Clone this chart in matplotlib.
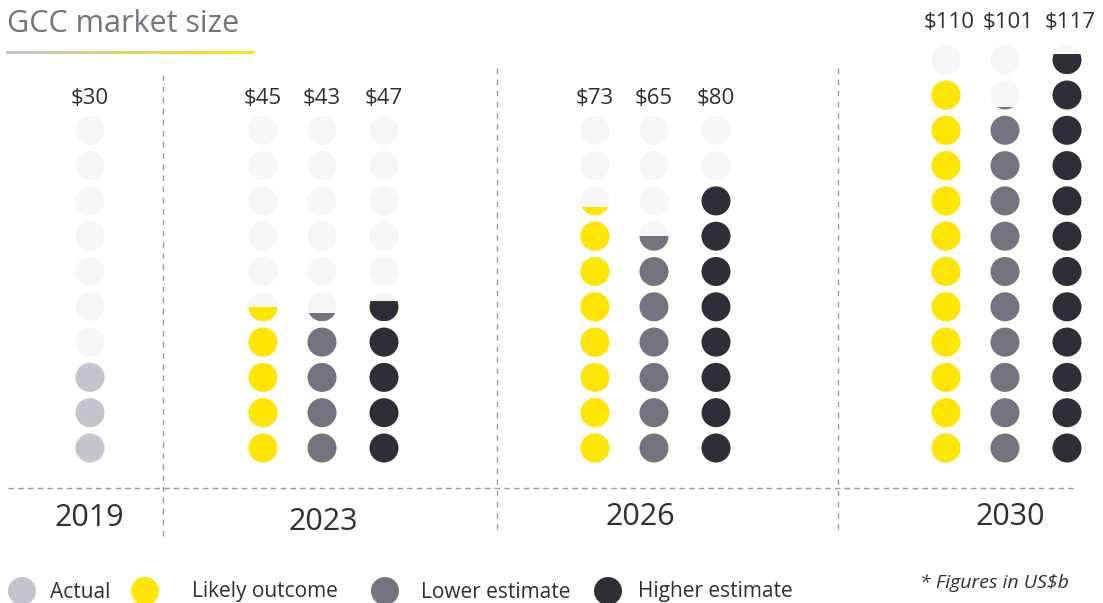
import matplotlib
matplotlib.use("Agg")
import matplotlib.pyplot as plt
import numpy as np
from matplotlib.patches import Circle, Rectangle
from matplotlib.colors import LinearSegmentedColormap

# ---- data ----
years = ["2019", "2023", "2026", "2030"]
actual = [30, None, None, None]
likely = [None, 45, 73, 110]
lower = [None, 43, 65, 101]
higher = [None, 47, 80, 117]
unit = 10  # US$b per dot
rows = [10, 10, 10, 12]
series_names = ["Actual", "Likely outcome", "Lower estimate", "Higher estimate"]
series_colors = ["#c4c4cd", "#ffe600", "#747480", "#2e2e38"]
empty_color = "#f6f6f6"
text_color = "#2e2e38"

plt.rcParams["font.family"] = ["Open Sans", "DejaVu Sans"]

fig = plt.figure(figsize=(11.03, 6.03), dpi=100)
ax = fig.add_axes([0, 0, 1, 1])
ax.set_xlim(0, 1103)
ax.set_ylim(603, 0)
ax.set_aspect("equal")
ax.axis("off")

# layout
col_x = {
    "2019": [90],
    "2023": [263, 322, 384],
    "2026": [595, 654, 716],
    "2030": [946, 1005, 1067],
}
year_label_pos = {"2019": (89, 518), "2023": (323, 522), "2026": (640, 517), "2030": (1010, 517)}
base_y = 448
dy = 35.3
r = 14.5


def draw_column(x, value, nrows, color):
    n_full = value / unit
    for i in range(nrows):
        y = base_y - i * dy
        ax.add_patch(Circle((x, y), r, facecolor=empty_color, edgecolor="none", zorder=2))
        frac = min(max(n_full - i, 0), 1)
        if frac > 0:
            c = Circle((x, y), r, facecolor=color, edgecolor="none", zorder=3)
            ax.add_patch(c)
            if frac < 1:
                clip = Rectangle((x - r - 1, y + r - 2 * r * frac), 2 * r + 2, 2 * r * frac,
                                 transform=ax.transData, facecolor="none", edgecolor="none")
                c.set_clip_path(clip)


for gi, yr in enumerate(years):
    vals = [actual[gi], likely[gi], lower[gi], higher[gi]]
    present = [(v, series_colors[k]) for k, v in enumerate(vals) if v is not None]
    for (v, colr), x in zip(present, col_x[yr]):
        draw_column(x, v, rows[gi], colr)
        lbl_y = 99 if rows[gi] == 10 else 22.5
        ax.text(x + (3 if rows[gi] == 12 else 0), lbl_y, f"${v}", ha="center", va="center",
                fontsize=16, color=text_color)
    ax.text(*year_label_pos[yr], yr, ha="center", va="center", fontsize=22, color=text_color)

# dashed grid lines
ax.plot([8, 1075], [488, 488], ls=(0, (4, 3)), color="#9a9aa2", lw=1, zorder=1)
for x, y0, y1 in [(163, 75, 540), (497, 68, 530), (838, 68, 530)]:
    ax.plot([x, x], [y0, y1], ls=(0, (4, 4)), color="#9a9aa2", lw=1, zorder=1)

# title and gradient underline
ax.text(7, 24, "GCC market size", ha="left", va="center", fontsize=22, color="#74737f")
cmap = LinearSegmentedColormap.from_list("g", ["#c4c4cd", "#ffe600"])
grad = np.linspace(0, 1, 256).reshape(1, -1)
ax.imshow(grad, cmap=cmap, extent=(6, 254, 54.5, 51.5), aspect="auto", zorder=1)
ax.set_xlim(0, 1103)
ax.set_ylim(603, 0)

# legend
leg_circle_x = [22, 145, 385, 608]
leg_text_x = [50, 192, 421, 638]
for name, colr, cx, tx in zip(series_names, series_colors, leg_circle_x, leg_text_x):
    ax.add_patch(Circle((cx, 591), 14, facecolor=colr, edgecolor="none"))
    ax.text(tx, 592, name, ha="left", va="center", fontsize=15, color=text_color)

ax.text(920, 583, "* Figures in US$b", ha="left", va="center", fontsize=14,
        style="italic", color=text_color)

fig.savefig("out.png", dpi=100)
